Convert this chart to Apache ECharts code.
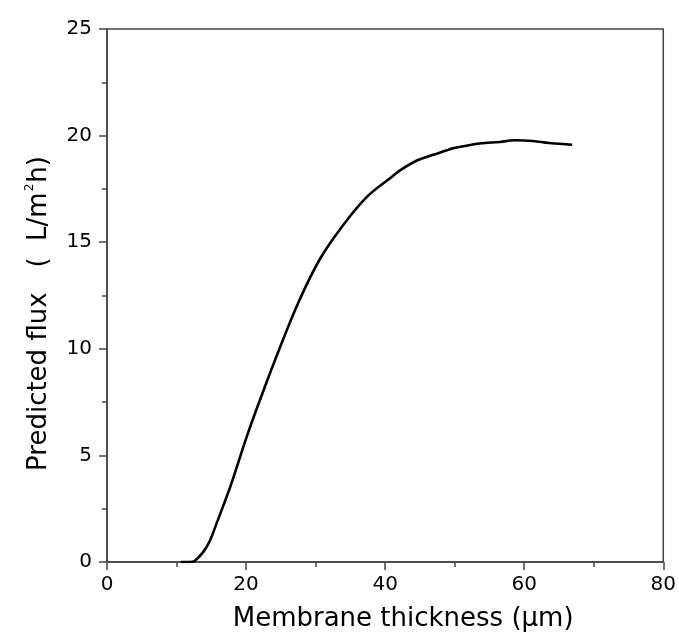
<!DOCTYPE html>
<html>
<head>
<meta charset="utf-8">
<script src="https://cdn.jsdelivr.net/npm/echarts@6/dist/echarts.min.js"></script>
<style>html,body{margin:0;padding:0;background:#fff}#c{width:679px;height:640px}</style>
</head>
<body>
<div id="c"></div>
<script>
const thickness = [10.6, 12.0, 12.6, 13.8, 14.8, 15.75, 16.7, 17.9, 20.1, 22.0, 24.8, 27.7, 30.6, 33.5, 37.3, 40.7, 42.2, 44.5, 46.8, 48.8, 49.7, 53.6, 56.5, 58.6, 61.2, 63.6, 66.9];
const flux = [0, 0, 0.05, 0.45, 1.0, 1.8, 2.62, 3.69, 5.88, 7.6, 10.0, 12.3, 14.2, 15.6, 17.1, 18.0, 18.38, 18.82, 19.09, 19.3, 19.4, 19.63, 19.7, 19.78, 19.75, 19.65, 19.57];
const xTicks = [0, 20, 40, 60, 80];
const yTicks = [0, 5, 10, 15, 20, 25];

const FONT = 'DejaVu Sans';
const axisCol = '#444';
const chart = echarts.init(document.getElementById('c'), null, {renderer: 'canvas'});
chart.setOption({
  animation: false,
  backgroundColor: '#fff',
  grid: {left: 107, right: 15, top: 29, bottom: 78, show: true, borderColor: axisCol, borderWidth: 1.5, backgroundColor: 'transparent'},
  xAxis: {
    type: 'value', min: xTicks[0], max: xTicks[xTicks.length - 1], interval: 20,
    name: 'Membrane thickness (µm)', nameLocation: 'middle', nameGap: 44,
    nameTextStyle: {fontFamily: FONT, fontSize: 26, color: '#000', padding: [0, 0, 0, 36]},
    axisLine: {show: true, lineStyle: {color: axisCol, width: 1.5}},
    axisTick: {show: true, length: 8, lineStyle: {color: axisCol, width: 1.5}},
    minorTick: {show: true, splitNumber: 2, length: 5, lineStyle: {color: axisCol, width: 1.5}},
    axisLabel: {fontFamily: FONT, fontSize: 20, color: '#000', margin: 13},
    splitLine: {show: false}
  },
  yAxis: {
    type: 'value', min: yTicks[0], max: yTicks[yTicks.length - 1], interval: 5,
    name: 'Predicted flux   (  L/m{sup|2}h)', nameLocation: 'middle', nameGap: 53,
    nameTextStyle: {fontFamily: FONT, fontSize: 26, color: '#000', padding: [0, 36, 0, 0],
      rich: {sup: {fontFamily: FONT, fontSize: 12, color: '#000', padding: [0, 1, 18, 1]}}},
    axisLine: {show: true, lineStyle: {color: axisCol, width: 1.5}},
    axisTick: {show: true, length: 8, lineStyle: {color: axisCol, width: 1.5}},
    minorTick: {show: true, splitNumber: 2, length: 5, lineStyle: {color: axisCol, width: 1.5}},
    axisLabel: {fontFamily: FONT, fontSize: 20, color: '#000', margin: 15},
    splitLine: {show: false}
  },
  series: [{
    type: 'line',
    data: thickness.map((x, i) => [x, flux[i]]),
    showSymbol: false,
    smooth: 0.4,
    lineStyle: {color: '#000', width: 2.6}
  }]
});
</script>
</body>
</html>
